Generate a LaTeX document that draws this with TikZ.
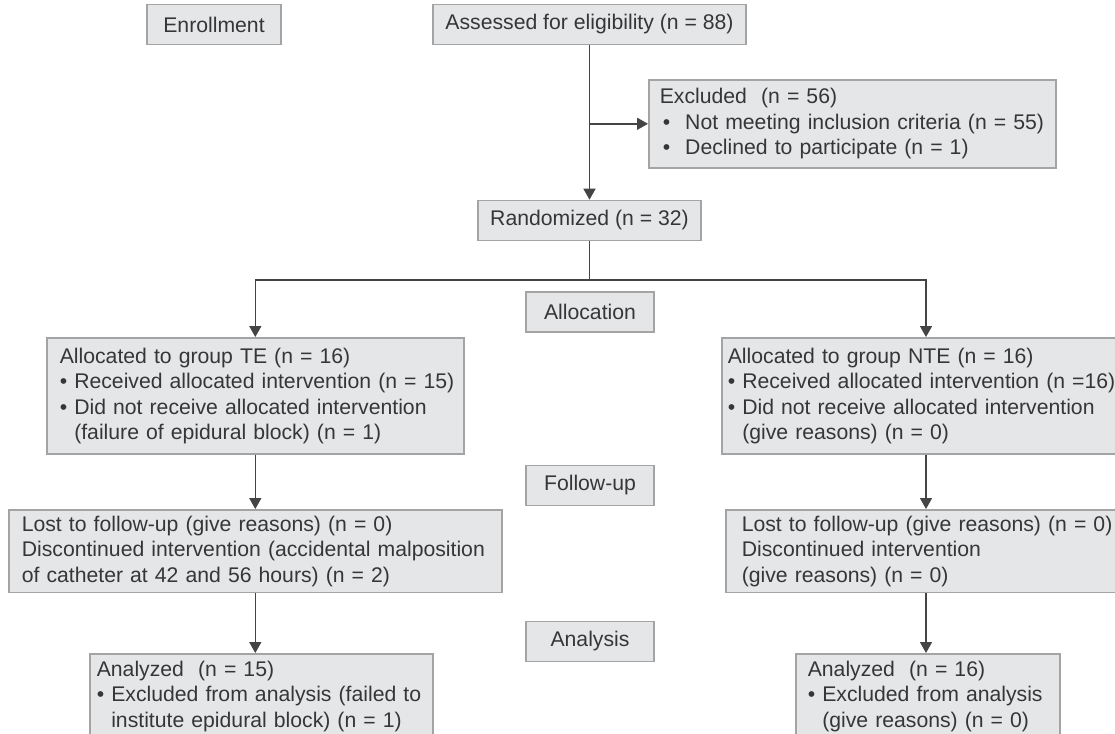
\documentclass[tikz,border=0pt]{standalone}
\usepackage{fontspec}
\setmainfont{Liberation Sans}
\usepackage{tikz}
\usetikzlibrary{arrows.meta}
\definecolor{boxfill}{HTML}{E5E6E8}
\definecolor{boxline}{HTML}{A4A4A4}
\definecolor{ink}{HTML}{363636}
\definecolor{wire}{HTML}{444444}
\newcommand{\bul}{\makebox[1.2em][l]{\hspace{0.15em}•}}

\begin{document}
\begin{tikzpicture}[x=1pt, y=-1pt,
  box/.style={draw=boxline, line width=1.6pt, fill=boxfill, text=ink, font=\fontsize{21.2}{25.5}\selectfont, inner ysep=6pt},
  tag/.style={box, minimum height=40pt, inner xsep=0pt},
  card/.style={box, anchor=north west, align=left, inner xsep=14pt},
  link/.style={draw=wire, line width=1.6pt},
  arr/.style={link, -{Triangle[length=11pt,width=12pt]}}]
  \useasboundingbox (0,0) rectangle (1115,733);
  \clip (0,0) rectangle (1115,733);

  \node[tag, minimum width=134pt] (enroll) at (214,24.5) {Enrollment};
  \node[tag, minimum width=313pt] (assess) at (589.5,24.5) {Assessed for eligibility (n = 88)};
  \node[card, inner xsep=11pt, text width=385pt, minimum height=88pt] (excl) at (648,79) {Excluded~~(n = 56)\\
    \mbox{\bul Not meeting inclusion criteria (n = 55)}\\
    \bul Declined to participate (n = 1)};
  \node[tag, minimum width=223pt] (rand) at (589.5,220.5) {Randomized (n = 32)};

  \node[tag, minimum width=128pt] (alloc) at (590,312) {Allocation};
  \node[card, inner xsep=13pt, text width=391pt, minimum height=116pt] (te) at (46,337) {Allocated to group TE (n = 16)\\
    \mbox{• Received allocated intervention (n = 15)}\\
    • Did not receive allocated intervention\\
    \phantom{• }(failure of epidural block) (n = 1)};
  \node[card, inner xsep=6pt, text width=420pt, minimum height=116pt] (nte) at (721,337) {Allocated to group NTE (n = 16)\\
    \mbox{• Received allocated intervention (n =16)}\\
    • Did not receive allocated intervention\\
    \phantom{• }(give reasons) (n = 0)};

  \node[tag, minimum width=128pt] (follow) at (590,485.5) {Follow-up};
  \node[card, inner xsep=13pt, text width=467pt, minimum height=82pt] (telost) at (8,509) {Lost to follow-up (give reasons) (n = 0)\\
    \mbox{Discontinued intervention (accidental malposition}\\
    of catheter at 42 and 56 hours) (n = 2)};
  \node[card, inner xsep=16pt, text width=400pt, minimum height=82pt] (ntelost) at (725,509) {Lost to follow-up (give reasons) (n = 0)\\
    Discontinued intervention\\
    (give reasons) (n = 0)};

  \node[tag, minimum width=128pt] (analys) at (590,641.5) {Analysis};
  \node[card, inner xsep=7pt, text width=329pt, minimum height=85pt] (tean) at (89,653) {Analyzed~~(n = 15)\\
    \mbox{• Excluded from analysis (failed to}\\
    \phantom{• }institute epidural block) (n = 1)};
  \node[card, inner xsep=12pt, text width=240pt, minimum height=85pt] (ntean) at (795,653) {Analyzed~~(n = 16)\\
    • Excluded from analysis\\
    \phantom{• }(give reasons) (n = 0)};

  \coordinate (split) at (589.5,280);
  \coordinate (rcol) at (926,280);

  \draw[arr] (assess) -- (rand);
  \draw[arr] (assess.south |- excl.west) -- (excl.west);
  \draw[link] (rand) -- (split);
  \draw[arr] (split) -| (te.north);
  \draw[arr] (split) -| (rcol |- nte.north);
  \draw[arr] (te) -- (telost);
  \draw[arr] (telost) -- (telost |- tean.north);
  \draw[arr] (rcol |- nte.south) -- (rcol |- ntelost.north);
  \draw[arr] (rcol |- ntelost.south) -- (rcol |- ntean.north);
\end{tikzpicture}
\end{document}
